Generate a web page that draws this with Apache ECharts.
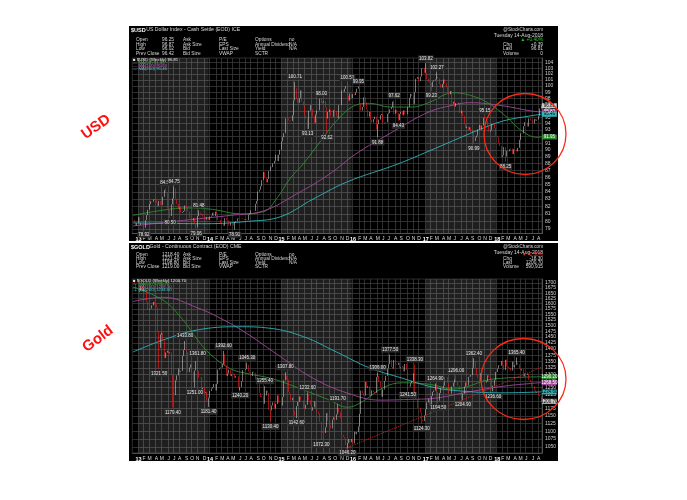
<!DOCTYPE html>
<html><head><meta charset="utf-8">
<script src="https://cdn.jsdelivr.net/npm/echarts@6/dist/echarts.min.js"></script>
<style>html,body{margin:0;padding:0;background:#fff}#c{width:687px;height:500px}</style>
</head><body><div id="c"></div>
<script>
// ---------- DATA ----------
const startDate = '2012-12-07'; // first weekly bar (Friday)
const usdClose = [
80.18,79.93,79.46,79.77,
80.55,79.55,79.79,79.70, 79.15,80.17,80.83,81.56, 82.31,82.70,82.64,82.92,82.99, 82.51,82.07,82.76,82.19,
82.19,83.30,84.27,83.89,81.73, 81.52,80.71,82.29,83.10, 84.50,83.03,82.34,81.68, 81.88,81.16,81.25,81.38,82.13,
81.93,81.33,80.41,80.36, 80.11,80.43,79.67,79.23, 80.70,81.15,80.92,80.97,80.69, 80.27,80.23,80.57,80.21,
80.64,80.76,81.17,80.71,81.29, 80.92,80.18,80.18,79.71, 79.68,79.42,80.43,80.15, 80.13,79.44,79.84,79.78,
79.46,79.91,80.03,80.38,80.43, 80.41,80.43,80.32,80.18, 80.25,80.19,80.89,81.01, 81.46,81.45,81.40,82.36,82.75,
84.03,84.29,84.78,85.64, 86.78,85.92,85.32,85.79,86.95, 87.56,87.49,88.03,88.40, 89.30,88.37,89.30,90.01,
91.27,91.91,92.51,94.82,94.80, 94.49,94.37,94.42,95.32, 97.65,99.64,97.86,97.27, 98.03,99.30,97.52,96.89,
95.25,94.80,93.18,96.04,96.91, 96.30,95.10,94.12,95.44, 96.06,96.09,97.94,97.22,97.34, 97.56,96.56,94.79,95.83,
96.20,95.15,95.08,96.10, 95.99,95.14,94.82,96.91,96.91, 99.31,99.05,99.57,99.98, 98.38,97.63,98.78,98.05,
98.69,98.53,98.98,99.58,99.60, 97.05,96.03,96.61,98.15, 97.33,96.21,95.08,95.85, 94.61,94.18,94.69,95.09,93.10,
93.90,94.62,95.32,95.52, 94.03,94.13,94.19,95.53, 95.63,96.26,96.59,97.47,95.53, 96.20,95.68,94.53,95.52,
95.84,95.30,96.07,95.43,95.44, 96.61,98.03,98.72,98.36, 97.04,99.00,101.21,101.50, 100.84,101.58,102.96,103.04,102.21,
102.22,101.19,100.74,100.58, 99.85,100.76,100.93,101.12, 101.52,101.26,100.33,99.75,100.35, 101.08,100.51,99.86,99.05,
98.66,99.21,97.13,97.43, 96.68,97.23,97.16,97.27,95.63, 96.03,95.17,93.92,93.30, 93.54,93.06,93.43,92.69,
92.82,91.33,91.87,92.17,93.08, 93.80,93.08,93.69,94.92, 94.80,94.40,93.65,92.78, 92.99,93.91,93.92,93.30,92.12,
91.91,91.03,90.59,88.97, 89.20,90.43,89.05,89.87, 89.80,90.10,90.20,89.39,90.13, 90.07,89.79,90.32,91.52,
92.46,92.50,93.61,94.21, 94.17,93.55,94.81,94.50,94.46, 94.01,94.72,94.45,94.62, 95.15,96.37,96.81
];
const goldClose = [
1705,1696,1657,1656,
1656,1662,1687,1659, 1667,1667,1609,1573, 1576,1577,1592,1608,1596, 1582,1476,1405,1462,
1469,1436,1364,1386,1393, 1383,1387,1297,1234, 1223,1277,1296,1322, 1310,1313,1372,1396,1396,
1387,1308,1326,1338, 1309,1272,1315,1351, 1314,1287,1288,1243,1250, 1231,1234,1203,1214,
1238,1247,1252,1264,1240, 1263,1318,1323,1326, 1339,1379,1334,1294, 1303,1318,1293,1300,
1302,1287,1293,1292,1250, 1252,1274,1316,1316, 1320,1337,1310,1305, 1294,1310,1306,1280,1287,
1268,1231,1216,1218, 1192,1222,1239,1231,1171, 1169,1186,1197,1175, 1191,1222,1196,1195,
1186,1216,1277,1293,1279, 1234,1227,1204,1213, 1167,1152,1184,1199, 1218,1204,1204,1178,
1175,1189,1225,1204,1189, 1169,1180,1201,1174, 1164,1159,1131,1099,1095, 1094,1113,1160,1134,
1121,1109,1138,1146, 1137,1156,1177,1163,1142, 1088,1081,1076,1056, 1062,1075,1065,1075,
1061,1098,1090,1097,1116, 1157,1239,1230,1221, 1271,1250,1255,1220, 1222,1240,1234,1231,1290,
1294,1272,1252,1217, 1243,1275,1294,1322, 1339,1356,1328,1322,1356, 1340,1337,1345,1323,
1327,1330,1311,1340,1317, 1257,1254,1267,1275, 1304,1225,1209,1178, 1177,1162,1137,1133,1152,
1173,1197,1210,1190, 1220,1234,1239,1258, 1234,1203,1230,1248,1249, 1257,1289,1288,1268,
1228,1228,1254,1268, 1280,1271,1256,1256,1242, 1212,1228,1254,1269, 1258,1290,1291,1297,
1325,1351,1324,1297,1284, 1275,1304,1280,1272, 1269,1274,1296,1288, 1280,1248,1257,1279,1309,
1322,1335,1333,1352, 1337,1316,1357,1330, 1323,1324,1314,1349,1327, 1336,1345,1338,1323,
1315,1320,1292,1303, 1298,1302,1279,1270,1254, 1255,1241,1231,1233, 1223,1219,1200.7
];
const usdTicks = [79,80,81,82,83,84,85,86,87,88,89,90,91,92,93,94,95,96,97,98,99,100,101,102,103,104];
const goldTicks = [1050,1075,1100,1125,1150,1175,1200,1225,1250,1275,1300,1325,1350,1375,1400,1425,1450,1475,1500,1525,1550,1575,1600,1625,1650,1675,1700];
// moving averages: [week index, value]
const usdMA50 = [[0,80.8],[22,81.5],[40,81.8],[58,81.6],[78,81.0],[95,81.3],[105,83.2],[114,85.8],[124,88.0],[136,91.2],[148,94.4],[162,96.9],[172,97.2],[187,96.6],[203,96.6],[215,97.3],[233,98.9],[245,98.5],[258,97.3],[272,95.0],[282,93.0],[294,91.9],[297,91.95]];
const usdMA100 = [[0,79.4],[40,80.2],[71,80.8],[95,81.4],[119,83.7],[143,86.5],[162,89.4],[187,92.5],[215,95.8],[233,96.9],[245,97.3],[269,96.8],[289,96.0],[297,95.83]];
const usdMA200 = [[0,79.8],[54,79.7],[83,80.0],[107,80.6],[131,83.0],[156,85.4],[192,87.9],[216,89.9],[233,91.4],[250,92.9],[269,94.4],[289,95.2],[297,95.46]];
const goldMA50 = [[0,1680],[22,1616],[36,1528],[47,1438],[56,1380],[71,1321],[83,1303],[100,1285],[114,1261],[129,1232],[143,1205],[156,1180],[167,1200],[182,1250],[196,1268],[216,1262],[233,1245],[262,1282],[297,1290.2]];
const goldMA100 = [[0,1610],[22,1630],[47,1580],[66,1525],[83,1465],[107,1370],[131,1285],[156,1230],[180,1205],[204,1208],[216,1210],[245,1235],[269,1255],[297,1268.5]];
const goldMA200 = [[0,1388],[22,1438],[47,1481],[76,1495],[100,1488],[124,1452],[148,1388],[172,1325],[196,1285],[216,1254],[233,1240],[269,1231],[297,1234.6]];
// labelled highs / lows: [week index, value, t=above / b=below]
const usdNotes = [[8,78.92,'b'],[24,84.50,'t'],[27,80.50,'b'],[30,84.75,'t'],[46,79.06,'b'],[48,81.48,'t'],[74,78.91,'b'],
 [118,100.71,'t'],[127,93.13,'b'],[137,98.00,'t'],[141,92.62,'b'],[156,100.51,'t'],[164,99.95,'t'],[178,91.88,'b'],[190,97.62,'t'],[193,94.43,'b'],
 [213,103.82,'t'],[217,99.23,'b'],[221,102.27,'t'],[248,90.99,'b'],[256,95.15,'t'],[271,88.25,'b']];
const goldNotes = [[19,1321.50,'b'],[29,1179.40,'b'],[38,1433.80,'t'],[45,1251.00,'b'],[47,1361.80,'t'],[55,1181.40,'b'],[66,1392.60,'t'],[78,1240.20,'b'],[83,1345.30,'t'],
 [96,1255.40,'t'],[100,1130.40,'b'],[111,1307.80,'t'],[119,1142.60,'b'],[127,1232.60,'t'],[137,1072.30,'b'],[149,1191.70,'t'],[156,1046.20,'b'],[178,1306.00,'t'],[187,1377.50,'t'],
 [200,1241.50,'b'],[205,1338.30,'t'],[210,1124.30,'b'],[220,1264.90,'t'],[222,1194.50,'b'],[235,1296.00,'t'],[240,1204.90,'b'],[248,1362.40,'t'],[262,1236.60,'b'],[279,1365.40,'t']];
const goldTrend = [[155,1046.2],[297,1327]];

// ---------- BUILD ----------
const N = usdClose.length;
const cats = [];
const d0 = new Date(startDate + 'T00:00:00Z');
for (let i = 0; i < N; i++) cats.push(new Date(d0.getTime() + i * 7 * 86400000).toISOString().slice(0, 10));
const monthStart = cats.map((c, i) => i > 0 && c.slice(5, 7) !== cats[i - 1].slice(5, 7));
const yearStart = cats.map((c, i) => monthStart[i] && c.slice(5, 7) === '01');
const L = Math.log;
const FONT = '"Liberation Sans", Arial, sans-serif';

function ohlc(close, notes) {
  const ext = {}; notes.forEach(n => ext[n[0]] = n[1]);
  return close.map((c, i) => {
    const o = i ? close[i - 1] : c;
    let lo = Math.min(o, c), hi = Math.max(o, c);
    if (ext[i] !== undefined) { lo = Math.min(lo, ext[i]); hi = Math.max(hi, ext[i]); }
    return [L(o), L(c), L(lo), L(hi)];
  });
}
const yearBands = [];
const ys = cats.map((c, i) => yearStart[i] ? i : -1).filter(i => i >= 0);
for (let k = 0; k < ys.length; k += 2) {
  yearBands.push([{ xAxis: cats[ys[k]] }, { xAxis: cats[(k + 1 < ys.length ? ys[k + 1] : N) - 1] }]);
}

function xAx(g) {
  return {
    type: 'category', gridIndex: g, data: cats, boundaryGap: true,
    axisLine: { show: true, lineStyle: { color: '#5a5a5a', width: 0.8 } },
    axisTick: { show: false },
    axisLabel: {
      interval: (i) => monthStart[i], margin: 3, fontSize: 5, color: '#dcdcdc', fontFamily: FONT,
      formatter: (v) => { const m = +v.slice(5, 7); return m === 1 ? '{y|' + v.slice(2, 4) + '}' : 'JFMAMJJASOND'[m - 1]; },
      rich: { y: { fontSize: 5.5, fontWeight: 'bold', color: '#ffffff', fontFamily: FONT } }
    },
    splitLine: { show: true, interval: (i) => monthStart[i], lineStyle: { color: '#3a3a3a', width: 0.8 } }
  };
}
function yAx(g, ticks, lo, hi) {
  const tv = ticks.map(L);
  return {
    type: 'value', gridIndex: g, position: 'right', min: L(lo), max: L(hi),
    axisLine: { show: true, lineStyle: { color: '#5a5a5a', width: 0.8 } },
    axisTick: { show: false, customValues: tv },
    axisLabel: { customValues: tv, formatter: (v) => String(Math.round(Math.exp(v))), fontSize: 5, color: '#d0d0d0', margin: 3, fontFamily: FONT },
    splitLine: { show: true, lineStyle: { color: '#3a3a3a', width: 0.8 } }
  };
}
function noteData(notes) {
  return notes.map(n => ({
    coord: [n[0], L(n[1])], symbol: 'circle', symbolSize: 1, itemStyle: { color: 'rgba(0,0,0,0)' },
    label: { show: true, position: n[2] === 't' ? 'top' : 'bottom', distance: 1.5, formatter: n[1].toFixed(2),
      fontSize: 4.5, color: '#e8e8e8', backgroundColor: '#2b2b2b', padding: [0.5, 1], fontFamily: FONT }
  }));
}
function tag(idx, val, bg, fg, txt) {
  return { coord: [idx, L(val)], symbol: 'rect', symbolSize: [15, 5], symbolOffset: [8, 0], itemStyle: { color: bg },
    label: { show: true, position: 'inside', formatter: txt, fontSize: 4.5, color: fg, fontFamily: FONT } };
}
function maSeries(g, pts, color, tagTxt, fg) {
  return {
    type: 'line', xAxisIndex: g, yAxisIndex: g, data: pts.map(p => [p[0], L(p[1])]), smooth: 0.4, symbol: 'none',
    lineStyle: { color: color, width: 0.9 }, z: 3, silent: true,
    markPoint: { silent: true, data: [tag(pts[pts.length - 1][0], pts[pts.length - 1][1], color, fg, tagTxt)] }
  };
}
function candle(g, close, notes, lastTxt, extra) {
  const s = {
    type: 'candlestick', xAxisIndex: g, yAxisIndex: g, data: ohlc(close, notes), barWidth: 1.25, z: 4, silent: true,
    itemStyle: { color: '#b4b4b4', color0: '#ff1a1a', borderColor: '#c4c4c4', borderColor0: '#ff1a1a', borderWidth: 0.6 },
    markArea: { silent: true, itemStyle: { color: 'rgba(255,255,255,0.12)' }, data: yearBands },
    markPoint: { silent: true, data: noteData(notes).concat([tag(N - 1, close[N - 1], '#c8c8c8', '#000', lastTxt)]) }
  };
  return Object.assign(s, extra || {});
}

const GREEN = '#2e8b2e', MAG = '#a0479a', CYAN = '#2fb3b8';
const series = [
  candle(0, usdClose, usdNotes, '96.81'),
  maSeries(0, usdMA50, GREEN, '91.95', '#fff'),
  maSeries(0, usdMA100, MAG, '95.83', '#fff'),
  maSeries(0, usdMA200, CYAN, '95.46', '#000'),
  candle(1, goldClose, goldNotes, '1200.70', {
    markLine: { silent: true, symbol: 'none', lineStyle: { color: '#d02020', type: 'dotted', width: 1 }, label: { show: false },
      data: [[{ coord: [goldTrend[0][0], L(goldTrend[0][1])] }, { coord: [goldTrend[1][0], L(goldTrend[1][1])] }]] }
  }),
  maSeries(1, goldMA50, GREEN, '1290.20', '#fff'),
  maSeries(1, goldMA100, MAG, '1268.50', '#fff'),
  maSeries(1, goldMA200, CYAN, '1234.60', '#000')
];

// ---------- TEXT / DECORATION ----------
function T(x, y, s, o) {
  o = o || {};
  return { type: 'text', x: x, y: y, z: 60, silent: true,
    style: { text: s, fill: o.c || '#d8d8d8', font: (o.b ? 'bold ' : '') + (o.s || 4.8) + 'px ' + FONT, align: o.a || 'left', verticalAlign: 'middle' } };
}
function header(top, rows, title, sym, left, right, legend) {
  const el = [];
  el.push(T(131, top + 4, sym, { b: true, s: 5.5, c: '#fff' }));
  el.push(T(131 + sym.length * 3.3 + 2, top + 4, title, { s: 5.2 }));
  el.push(T(543, top + 3.5, '@StockCharts.com', { a: 'right', s: 4.6 }));
  el.push(T(543, top + 9.5, 'Tuesday 14-Aug-2018', { a: 'right', s: 5 }));
  const labs = ['Open', 'High', 'Low', 'Prev Close'];
  const c2 = ['Ask', 'Ask Size', 'Bid', 'Bid Size'];
  const c3 = ['P/E', 'EPS', 'Last Size', 'VWAP'];
  const c4 = ['Options', 'Annual Dividend', 'Yield', 'SCTR'];
  const c4v = ['no', 'N/A', 'N/A', ''];
  rows.forEach((y, k) => {
    el.push(T(136, y, labs[k])); el.push(T(162, y, left[k]));
    el.push(T(183, y, c2[k])); el.push(T(219, y, c3[k]));
    el.push(T(255, y, c4[k])); el.push(T(289, y, c4v[k]));
  });
  el.push(T(543, rows[0], right[0], { a: 'right', c: right[1] }));
  const rl = ['Chg', 'Last', 'Volume'];
  for (let k = 0; k < 3; k++) { el.push(T(503, rows[k + 1], rl[k])); el.push(T(543, rows[k + 1], right[k + 2], { a: 'right' })); }
  legend.forEach((l) => el.push(T(133, l[0], l[1], { s: 4.3, c: l[2] })));
  return el;
}
const graphics = [
  { type: 'rect', z: -5, shape: { x: 129, y: 26, width: 429, height: 215 }, style: { fill: '#000' }, silent: true },
  { type: 'rect', z: -5, shape: { x: 129, y: 243, width: 429, height: 218 }, style: { fill: '#000' }, silent: true }
].concat(
  header(26, [40, 44.5, 49, 53.5], 'US Dollar Index - Cash Settle (EOD) ICE', '$USD',
    ['96.25', '96.87', '96.02', '96.42'], ['\u25B2 +0.40%', '#22cc22', '+0.39', '96.81', '0'],
    [[59.5, '\u25A0 $USD (Weekly) 96.81', '#e8e8e8'], [62.8, '\u2014 MA(50) 91.95', '#3cb33c'], [66, '\u2014 MA(100) 95.83', '#c060c0'], [69.2, '\u2014 MA(200) 95.46', '#40c8cc']]),
  header(243, [255, 259, 263, 267], 'Gold - Continuous Contract (EOD) CME', '$GOLD',
    ['1218.40', '1221.40', '1198.80', '1219.00'], ['\u25BC -1.50%', '#ff3030', '-18.30', '1200.70', '590,915'],
    [[280.5, '\u25A0 $GOLD (Weekly) 1200.70', '#e8e8e8'], [283.8, '\u2014 MA(50) 1290.20', '#3cb33c'], [287, '\u2014 MA(100) 1268.50', '#c060c0'], [290.2, '\u2014 MA(200) 1234.60', '#40c8cc']]),
  [
    { type: 'ellipse', z: 80, silent: true, shape: { cx: 525, cy: 134, rx: 41, ry: 40.5 }, style: { fill: 'none', stroke: '#ff2a14', lineWidth: 1.3 } },
    { type: 'ellipse', z: 80, silent: true, shape: { cx: 523.5, cy: 379, rx: 42.5, ry: 40.5 }, style: { fill: 'none', stroke: '#ff2a14', lineWidth: 1.3 } },
    { type: 'text', z: 80, silent: true, x: 96, y: 127, rotation: 35 * Math.PI / 180, style: { text: 'USD', fill: '#ff1010', font: 'bold 15px ' + FONT, align: 'center', verticalAlign: 'middle' } },
    { type: 'text', z: 80, silent: true, x: 98, y: 339, rotation: 37 * Math.PI / 180, style: { text: 'Gold', fill: '#ff1010', font: 'bold 15px ' + FONT, align: 'center', verticalAlign: 'middle' } }
  ]
);

const chart = echarts.init(document.getElementById('c'), null, { renderer: 'canvas' });
chart.setOption({
  backgroundColor: '#ffffff',
  animation: false,
  grid: [
    { left: 132.3, top: 58, width: 409.7, height: 175.5, show: true, backgroundColor: '#000', borderColor: '#4a4a4a', borderWidth: 0.6 },
    { left: 132.3, top: 279, width: 409.7, height: 174, show: true, backgroundColor: '#000', borderColor: '#4a4a4a', borderWidth: 0.6 }
  ],
  xAxis: [xAx(0), xAx(1)],
  yAxis: [yAx(0, usdTicks, 78.42, 104.74), yAx(1, goldTicks, 1031.6, 1720)],
  series: series,
  graphic: { elements: graphics }
});
</script></body></html>
